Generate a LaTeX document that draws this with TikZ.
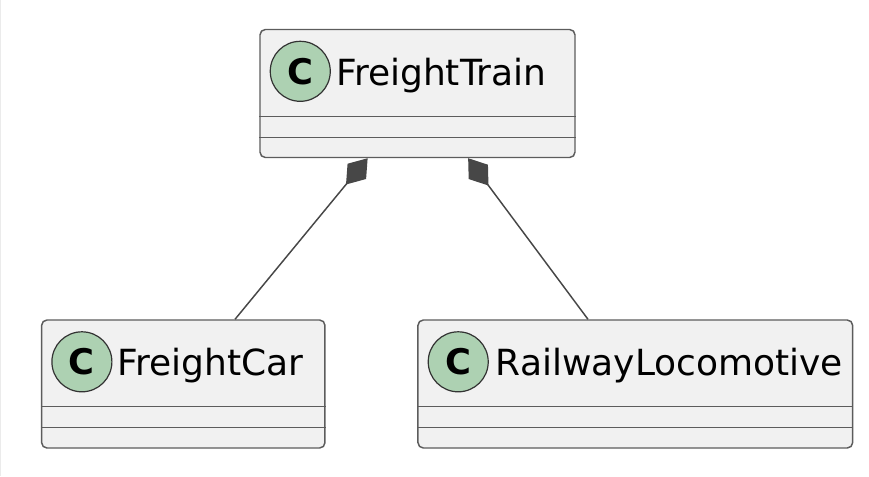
\documentclass[tikz,border=0pt]{standalone}
\usepackage{fontspec}
\setmainfont{DejaVu Sans}
\usetikzlibrary{arrows.meta}

\definecolor{clsfill}{HTML}{F1F1F1}
\definecolor{clsline}{HTML}{5C5C5C}
\definecolor{spotfill}{HTML}{ADD1B2}
\definecolor{relline}{HTML}{474747}

\begin{document}
\begin{tikzpicture}[x=0.75pt,y=-0.75pt,
        cls/.style={draw=clsline,fill=clsfill,line width=1.1pt,rounded corners=4pt,inner sep=0pt,minimum height=96pt},
        spot/.style={circle,draw=black!80,fill=spotfill,line width=0.9pt,minimum size=45pt,inner sep=0pt,font=\fontsize{26.5}{26.5}\selectfont\bfseries},
        clsname/.style={anchor=base west,inner sep=0pt,font=\fontsize{27}{32}\selectfont},
        sep/.style={draw=clsline,line width=1.1pt},
        comp/.style={draw=relline,line width=1.1pt,-{Diamond[length=25.5pt,width=18pt,fill=relline]}}]
        \useasboundingbox (0,0) rectangle (869,476);
        \draw[black!8,line width=0.75pt] (0.5,0) -- (0.5,476);

        \node[cls,minimum width=236.25pt] (train) at (417.5,93.5) {};
        \node[cls,minimum width=212.5pt]  (car)   at (183.3,384)  {};
        \node[cls,minimum width=326pt]    (loco)  at (635.3,384)  {};

        \draw[sep] ([yshift=15.75pt]train.south west) -- ([yshift=15.75pt]train.south east);
        \draw[sep] ([yshift=31.5pt]train.south west)  -- ([yshift=31.5pt]train.south east);
        \draw[sep] ([yshift=15.75pt]car.south west)   -- ([yshift=15.75pt]car.south east);
        \draw[sep] ([yshift=31.5pt]car.south west)    -- ([yshift=31.5pt]car.south east);
        \draw[sep] ([yshift=15.75pt]loco.south west)  -- ([yshift=15.75pt]loco.south east);
        \draw[sep] ([yshift=31.5pt]loco.south west)   -- ([yshift=31.5pt]loco.south east);

        \node[spot] (trainC) at ([xshift=30.75pt,yshift=-31.9pt]train.north west) {C};
        \node[spot] (carC)   at ([xshift=30.75pt,yshift=-31.9pt]car.north west)   {C};
        \node[spot] (locoC)  at ([xshift=30.75pt,yshift=-31.9pt]loco.north west)  {C};

        \node[clsname] (trainN) at ([xshift=26.6pt,yshift=-10.5pt]trainC.center) {FreightTrain};
        \node[clsname] (carN)   at ([xshift=26.6pt,yshift=-10.5pt]carC.center)   {FreightCar};
        \node[clsname] (locoN)  at ([xshift=28pt,yshift=-10.5pt]locoC.center)    {RailwayLocomotive};

        \coordinate (trainL)  at ([xshift=-37.4pt]train.south);
        \coordinate (trainR)  at ([xshift=38pt]train.south);
        \coordinate (carTop)  at ([xshift=38.8pt]car.north);
        \coordinate (locoTop) at ([xshift=-35.5pt]loco.north);

        \draw[comp] (carTop)  -- (trainL);
        \draw[comp] (locoTop) -- (trainR);
    \end{tikzpicture}
\end{document}
